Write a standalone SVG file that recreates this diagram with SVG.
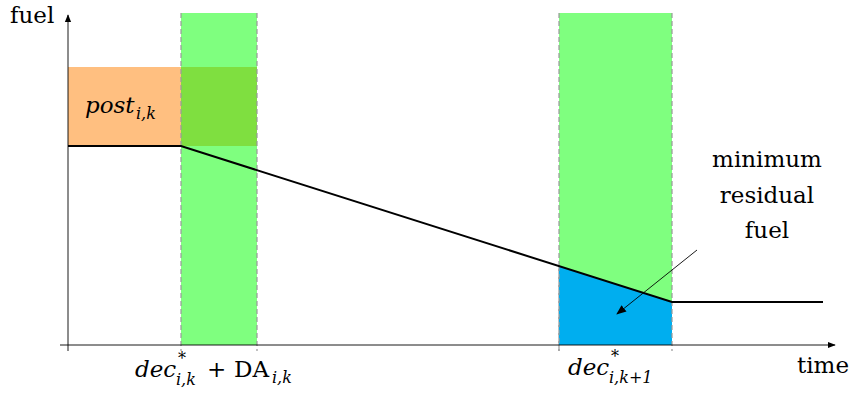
<svg xmlns="http://www.w3.org/2000/svg" width="855" height="395" viewBox="0 0 855 395">
<style>
  .t { font-family: "DejaVu Serif", "Liberation Serif", serif; font-size: 23px; fill: #000; }
  .i { font-style: italic; }
  .s { font-size: 16px; }
  .band { fill: #00ff00; fill-opacity: 0.5; }
  .dash { stroke: #999; stroke-width: 1.2; stroke-dasharray: 5 3; fill: none; }
  .axis { stroke: #000; stroke-width: 0.9; fill: none; }
</style>
<defs>
  <marker id="ah" viewBox="0 0 10 10" refX="9" refY="5" markerWidth="8" markerHeight="8" markerUnits="userSpaceOnUse" orient="auto">
    <path d="M0,1 L10,5 L0,9 z" fill="#000"/>
  </marker>
  <marker id="ah2" viewBox="0 0 10 10" refX="9" refY="5" markerWidth="10" markerHeight="10" markerUnits="userSpaceOnUse" orient="auto">
    <path d="M0,1 L10,5 L0,9 z" fill="#000"/>
  </marker>
</defs>
<rect width="855" height="395" fill="#fff"/>
<g id="post-area">
  <rect x="68" y="67" width="189" height="79" fill="#ffbf80"/>
  <text class="t i" x="85" y="113">post</text>
  <text class="t i s" x="136" y="119">i,k</text>
</g>
<g id="band1">
  <rect class="band" x="181" y="13" width="76" height="332"/>
  <line class="dash" x1="181" y1="13" x2="181" y2="351"/>
  <line class="dash" x1="257" y1="13" x2="257" y2="351"/>
</g>
<g id="band2">
  <rect class="band" x="559" y="13" width="113" height="332"/>
  <line class="dash" x1="559" y1="13" x2="559" y2="351"/>
</g>
<g id="residual">
  <polygon points="559,266 672,302 672,345 559,345" fill="#00aeef"/>
  <line class="dash" x1="559" y1="266" x2="559" y2="351"/>
  <line class="dash" x1="672" y1="13" x2="672" y2="351"/>
</g>
<g id="axes">
  <line class="axis" x1="68" y1="351" x2="68" y2="15" marker-end="url(#ah)"/>
  <line class="axis" x1="60" y1="345" x2="835" y2="345" marker-end="url(#ah)"/>
  <text class="t" x="10" y="23">fuel</text>
  <text class="t" x="797" y="373">time</text>
</g>
<g id="connectors">
  <polyline points="68,146 181,146 672,302 823,302" fill="none" stroke="#000" stroke-width="2"/>
  <line x1="697" y1="250" x2="617" y2="314" stroke="#000" stroke-width="0.9" marker-end="url(#ah2)"/>
</g>
<g id="labels">
  <text class="t" x="767" y="167" text-anchor="middle">minimum</text>
  <text class="t" x="767" y="203" text-anchor="middle">residual</text>
  <text class="t" x="767" y="238" text-anchor="middle">fuel</text>
  <text class="t i" x="135" y="377">dec</text>
  <text class="t s" x="178" y="364">*</text>
  <text class="t i s" x="176" y="385">i,k</text>
  <text class="t" x="207" y="377">+</text>
  <text class="t" x="234" y="377">DA</text>
  <text class="t i s" x="272" y="383">i,k</text>
  <text class="t i" x="568" y="375">dec</text>
  <text class="t s" x="611" y="362">*</text>
  <text class="t i s" x="609" y="383">i,k+1</text>
</g>
</svg>
